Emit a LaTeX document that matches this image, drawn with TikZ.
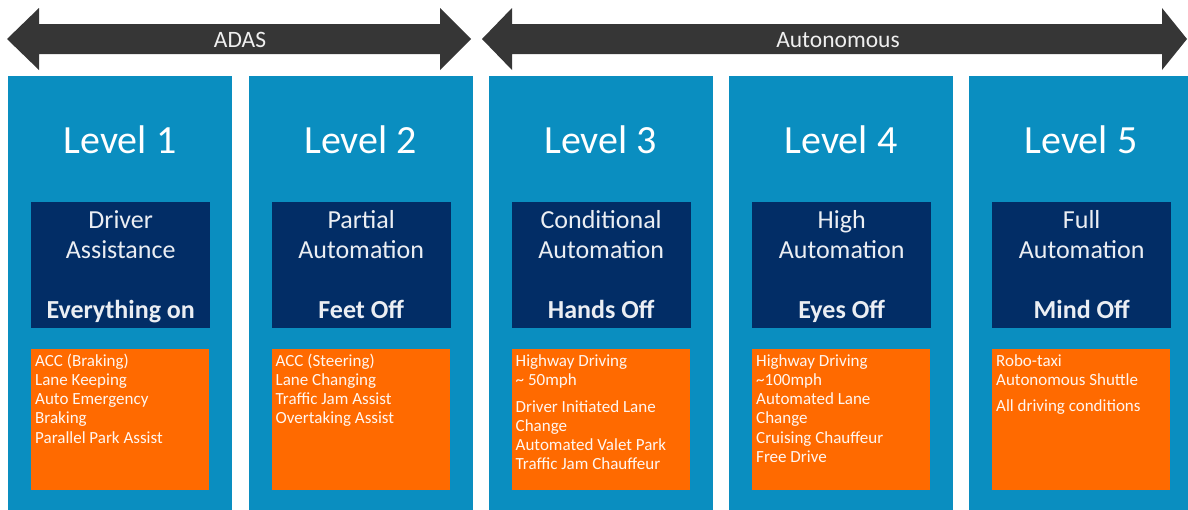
\documentclass[tikz,border=0pt]{standalone}
\usepackage{fontspec}
\setmainfont{Carlito}
\definecolor{colblue}{HTML}{0A8EC0}
\definecolor{navy}{HTML}{022D66}
\definecolor{orng}{HTML}{FF6A00}
\definecolor{arrowgray}{HTML}{363636}
\tikzset{
  colbox/.style={fill=colblue, draw=none, anchor=north west, minimum width=224pt, minimum height=440pt, inner sep=0pt},
  navybox/.style={fill=navy, draw=none, anchor=north west, minimum width=179pt, minimum height=126pt, inner sep=0pt},
  orngbox/.style={fill=orng, draw=none, anchor=north west, minimum width=178pt, minimum height=141pt, inner sep=0pt},
  leveltxt/.style={text=white, anchor=base, inner sep=0pt, font=\fontsize{40}{48}\selectfont},
  navytxt/.style={text=white!92!navy, anchor=base, inner sep=0pt, font=\fontsize{26}{30}\selectfont},
  navybold/.style={navytxt, font=\fontsize{26}{30}\selectfont\bfseries},
  itemtxt/.style={text=white!94!orng, anchor=base west, inner sep=0pt, font=\fontsize{17}{19}\selectfont},
  arrowtxt/.style={text=white!92!arrowgray, anchor=base, inner sep=0pt, font=\fontsize{23.5}{28}\selectfont},
  bigarrow/.style={fill=arrowgray, draw=none}
}
% #1 index, #2 left x, #3 level, #4 line1, #5 line2, #6 bold line
\newcommand{\levelcolumn}[6]{%
  \node[colbox] (col#1) at (#2,76) {};
  \node[leveltxt] (lev#1) at ([xshift=112pt]col#1.north west |- 0,153) {#3};
  \node[navybox] (nav#1) at ([xshift=23pt]col#1.north west |- 0,202) {};
  \node[navytxt] (nava#1) at (nav#1.north |- 0,228) {#4};
  \node[navytxt] (navb#1) at (nav#1.north |- 0,258) {#5};
  \node[navybold] (navc#1) at (nav#1.north |- 0,318) {#6};
  \node[orngbox] (org#1) at ([xshift=23pt]col#1.north west |- 0,349) {};
}
\begin{document}
\begin{tikzpicture}[x=1pt,y=-1pt]
\useasboundingbox (0,0) rectangle (1188,509);
\clip (0,0) rectangle (1188,509);

% arrows
\fill[bigarrow] (7,39) -- (39,8) -- (39,24) -- (440,24) -- (440,8) -- (471,39)
  -- (440,70) -- (440,54) -- (39,54) -- (39,70) -- cycle;
\node[arrowtxt] (adas) at (240,47) {ADAS};
\fill[bigarrow] (482,39) -- (512,8) -- (512,24) -- (1162,24) -- (1162,8) -- (1187,39)
  -- (1162,70) -- (1162,54) -- (512,54) -- (512,70) -- cycle;
\node[arrowtxt] (auto) at (838,47) {Autonomous};

\levelcolumn{1}{8}{Level 1}{Driver}{Assistance}{Everything on}
\levelcolumn{2}{248.5}{Level 2}{Partial}{Automation}{Feet Off}
\levelcolumn{3}{488.5}{Level 3}{Conditional}{Automation}{Hands Off}
\levelcolumn{4}{729}{Level 4}{High}{Automation}{Eyes Off}
\levelcolumn{5}{969}{Level 5}{Full}{Automation}{Mind Off}

% items level 1
\node[itemtxt] (i1a) at ([xshift=4pt]org1.north west |- 0,366) {ACC (Braking)};
\node[itemtxt] (i1b) at ([xshift=4pt]org1.north west |- 0,385.2) {Lane Keeping};
\node[itemtxt] (i1c) at ([xshift=4pt]org1.north west |- 0,404.5) {Auto Emergency};
\node[itemtxt] (i1d) at ([xshift=4pt]org1.north west |- 0,423.7) {Braking};
\node[itemtxt] (i1e) at ([xshift=4pt]org1.north west |- 0,443) {Parallel Park Assist};
% items level 2
\node[itemtxt] (i2a) at ([xshift=4pt]org2.north west |- 0,366) {ACC (Steering)};
\node[itemtxt] (i2b) at ([xshift=4pt]org2.north west |- 0,385.2) {Lane Changing};
\node[itemtxt] (i2c) at ([xshift=4pt]org2.north west |- 0,404.5) {Traffic Jam Assist};
\node[itemtxt] (i2d) at ([xshift=4pt]org2.north west |- 0,423.7) {Overtaking Assist};
% items level 3
\node[itemtxt] (i3a) at ([xshift=4pt]org3.north west |- 0,366) {Highway Driving};
\node[itemtxt] (i3b) at ([xshift=4pt]org3.north west |- 0,385) {\char`\~{} 50mph};
\node[itemtxt] (i3c) at ([xshift=4pt]org3.north west |- 0,412) {Driver Initiated Lane};
\node[itemtxt] (i3d) at ([xshift=4pt]org3.north west |- 0,431) {Change};
\node[itemtxt] (i3e) at ([xshift=4pt]org3.north west |- 0,450) {Automated Valet Park};
\node[itemtxt] (i3f) at ([xshift=4pt]org3.north west |- 0,469) {Traffic Jam Chauffeur};
% items level 4
\node[itemtxt] (i4a) at ([xshift=4pt]org4.north west |- 0,366) {Highway Driving};
\node[itemtxt] (i4b) at ([xshift=4pt]org4.north west |- 0,385.2) {\char`\~100mph};
\node[itemtxt] (i4c) at ([xshift=4pt]org4.north west |- 0,404.5) {Automated Lane};
\node[itemtxt] (i4d) at ([xshift=4pt]org4.north west |- 0,423.7) {Change};
\node[itemtxt] (i4e) at ([xshift=4pt]org4.north west |- 0,443) {Cruising Chauffeur};
\node[itemtxt] (i4f) at ([xshift=4pt]org4.north west |- 0,462.2) {Free Drive};
% items level 5
\node[itemtxt] (i5a) at ([xshift=4pt]org5.north west |- 0,366) {Robo-taxi};
\node[itemtxt] (i5b) at ([xshift=4pt]org5.north west |- 0,385) {Autonomous Shuttle};
\node[itemtxt] (i5c) at ([xshift=4pt]org5.north west |- 0,411) {All driving conditions};
\end{tikzpicture}
\end{document}
